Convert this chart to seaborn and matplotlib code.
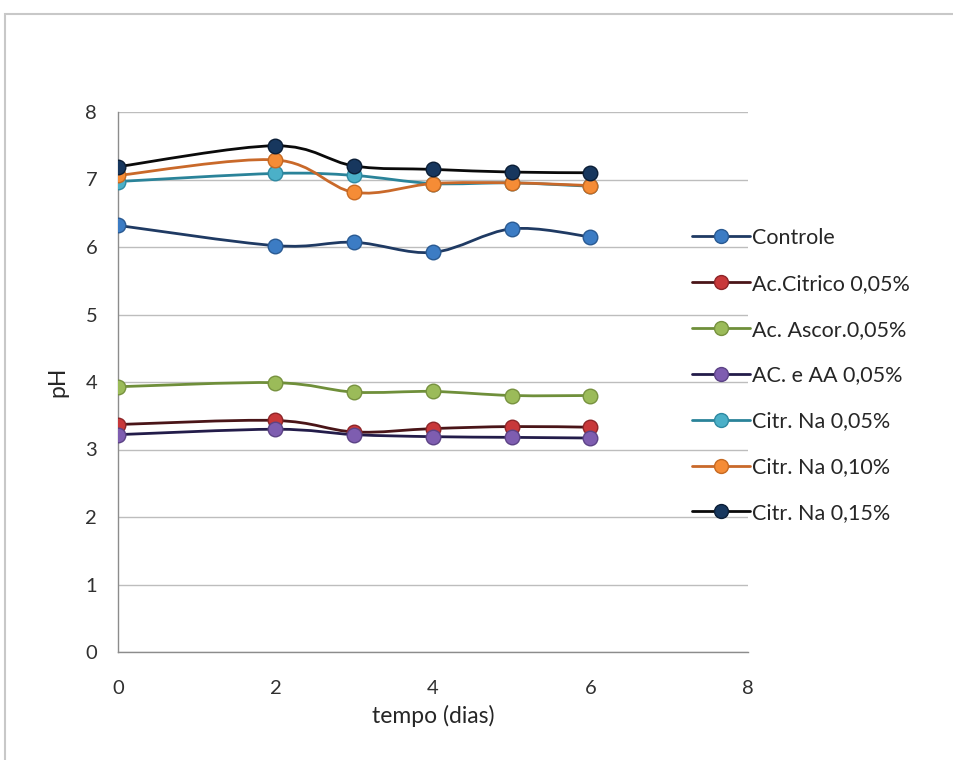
import numpy as np
import pandas as pd
import matplotlib
matplotlib.use("Agg")
import matplotlib.pyplot as plt
import seaborn as sns
from matplotlib.path import Path
from matplotlib.patches import PathPatch, Rectangle
from matplotlib.lines import Line2D

# pH measured over storage time (days)
dias = [0, 2, 3, 4, 5, 6]
controle = [6.32, 6.02, 6.07, 5.92, 6.27, 6.15]
ac_citrico = [3.37, 3.43, 3.26, 3.31, 3.34, 3.33]
ac_ascor = [3.93, 3.99, 3.85, 3.86, 3.80, 3.80]
ac_aa = [3.22, 3.30, 3.22, 3.19, 3.18, 3.17]
citr_na_005 = [6.97, 7.09, 7.06, 6.94, 6.95, 6.90]
citr_na_010 = [7.06, 7.29, 6.81, 6.94, 6.95, 6.91]
citr_na_015 = [7.19, 7.50, 7.20, 7.15, 7.11, 7.10]

series_names = ["Controle", "Ac.Citrico 0,05%", "Ac. Ascor.0,05%",
                "AC. e AA 0,05%", "Citr. Na 0,05%", "Citr. Na 0,10%",
                "Citr. Na 0,15%"]
series_values = [controle, ac_citrico, ac_ascor, ac_aa,
                 citr_na_005, citr_na_010, citr_na_015]

x_ticks = [0, 2, 4, 6, 8]
y_ticks = [0, 1, 2, 3, 4, 5, 6, 7, 8]

# line colour, marker fill, marker edge
line_colors = ["#1F3A63", "#4A1518", "#6F8F3A", "#231C4A", "#2A8399", "#C9692A", "#0A0A0A"]
marker_fill = ["#3C7CC4", "#C8383A", "#9BBB59", "#7E5DB0", "#4BB0C8", "#F58C36", "#17375E"]
marker_edge = ["#2A5A92", "#8E2528", "#77923F", "#5C4386", "#2F8AA2", "#C76A22", "#0B1E36"]

df = pd.DataFrame({
    "dias": np.tile(dias, len(series_names)),
    "pH": np.concatenate(series_values),
    "serie": np.repeat(series_names, len(dias)),
})

sns.set_theme(style="white")
plt.rcParams["font.family"] = ["Lato", "DejaVu Sans"]

fig = plt.figure(figsize=(9.54, 7.6), dpi=100)
ax = fig.add_axes([118 / 954, 1 - 652 / 760, 630 / 954, 540 / 760])


def smooth_path(xs, ys):
    """Catmull-Rom style Bezier path through the points."""
    pts = np.column_stack([xs, ys]).astype(float)
    n = len(pts)
    verts = [pts[0]]
    codes = [Path.MOVETO]
    for i in range(n - 1):
        p0 = pts[i - 1] if i > 0 else pts[i]
        p1 = pts[i]
        p2 = pts[i + 1]
        p3 = pts[i + 2] if i + 2 < n else pts[i + 1]
        c1 = p1 + (p2 - p0) / 6.0
        c2 = p2 - (p3 - p1) / 6.0
        verts += [c1, c2, p2]
        codes += [Path.CURVE4] * 3
    return Path(verts, codes)


for i, name in enumerate(series_names):
    sub = df[df["serie"] == name]
    patch = PathPatch(smooth_path(sub["dias"].values, sub["pH"].values),
                      facecolor="none", edgecolor=line_colors[i], lw=2.0,
                      zorder=3 + 2 * i, capstyle="round", joinstyle="round")
    ax.add_patch(patch)
    sns.scatterplot(data=sub, x="dias", y="pH", ax=ax, s=110,
                    color=marker_fill[i], edgecolor=marker_edge[i],
                    linewidth=1.0, zorder=4 + 2 * i, legend=False)

ax.set_xlim(0, 8)
ax.set_ylim(0, 8)
ax.set_xticks(x_ticks)
ax.set_yticks(y_ticks)
ax.set_xticklabels([str(t) for t in x_ticks])
ax.set_yticklabels([str(t) for t in y_ticks])
ax.tick_params(axis="both", length=0, labelsize=14.5, colors="#303030")
ax.tick_params(axis="x", pad=20)
ax.tick_params(axis="y", pad=15)
ax.yaxis.grid(True, color="#BDBDBD", lw=1.0)
ax.set_axisbelow(True)
for side in ["top", "right"]:
    ax.spines[side].set_visible(False)
for side in ["left", "bottom"]:
    ax.spines[side].set_color("#8C8C8C")
    ax.spines[side].set_linewidth(1.0)

ax.set_xlabel("tempo (dias)", fontsize=16.5, color="#262626", labelpad=6)
ax.set_ylabel("pH", fontsize=16.5, color="#262626", labelpad=12)

handles = [Line2D([0], [0], color=line_colors[i], lw=2.0, marker="o",
                  markersize=10, markerfacecolor=marker_fill[i],
                  markeredgecolor=marker_edge[i], markeredgewidth=1.0)
           for i in range(len(series_names))]
leg = fig.legend(handles, series_names, loc="upper left",
                 bbox_to_anchor=(692 / 954, 1 - 228 / 760),
                 frameon=False, fontsize=15.5, handlelength=2.7,
                 handletextpad=0.1, labelspacing=1.2, borderaxespad=0,
                 borderpad=0)
for t in leg.get_texts():
    t.set_color("#262626")

# outer chart frame
fig.patches.append(Rectangle((5 / 954, -0.2), 1.2, 1 - 14 / 760 + 0.2,
                             transform=fig.transFigure, fill=False,
                             edgecolor="#C8C8C8", lw=1.5, zorder=0))

fig.savefig("out.png", dpi=100)
